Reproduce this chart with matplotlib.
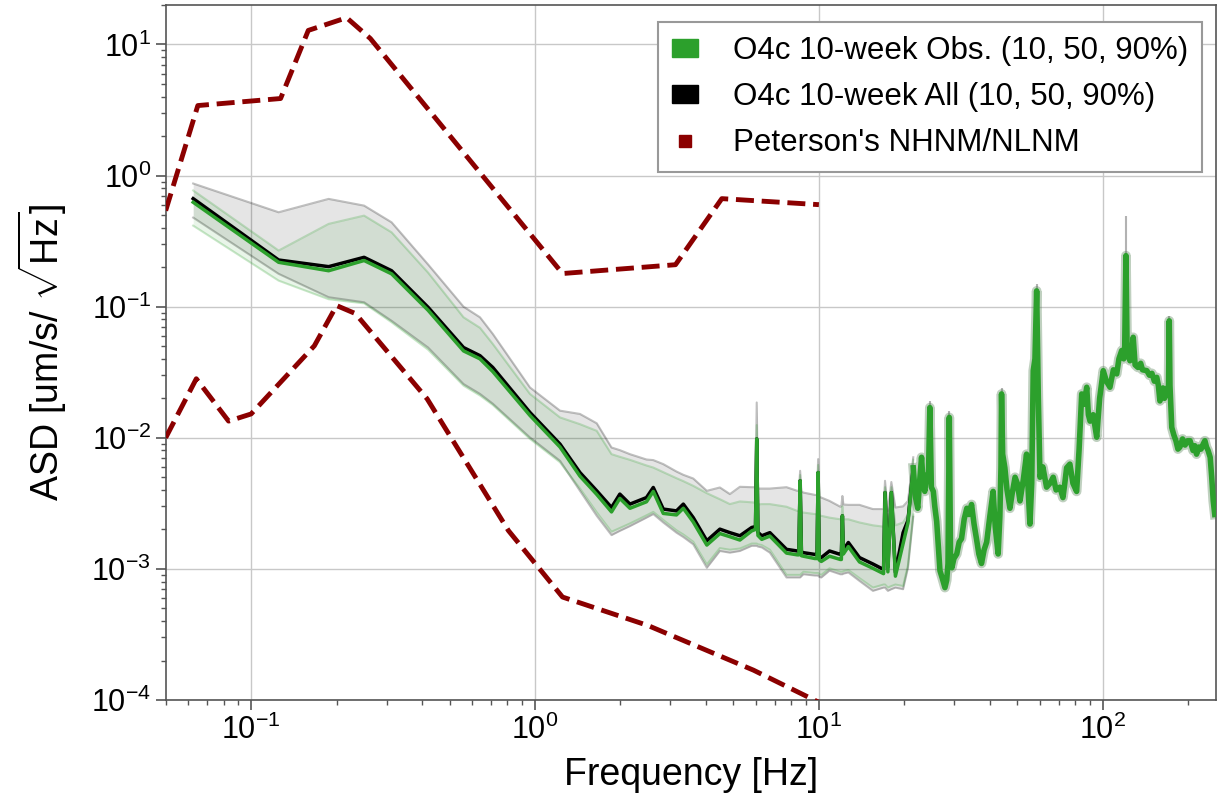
import numpy as np
import matplotlib
matplotlib.use('Agg')
import matplotlib.pyplot as plt
from matplotlib.patches import Patch
from matplotlib.lines import Line2D

plt.rcParams['font.family'] = ['Liberation Sans', 'DejaVu Sans']
plt.rcParams['mathtext.fontset'] = 'custom'
plt.rcParams['mathtext.rm'] = 'Liberation Sans'
plt.rcParams['mathtext.it'] = 'Liberation Sans:italic'
plt.rcParams['mathtext.bf'] = 'Liberation Sans:bold'

# --- percentile data, 0.06 - 21 Hz (10/50/90 %) ---
freq_lo = [0.0625, 0.125, 0.1875, 0.25, 0.3125, 0.42, 0.56, 0.64, 0.71, 0.96,
           1.225, 1.44, 1.65, 1.86, 1.99, 2.16, 2.47, 2.61, 2.83, 3.15,
           3.33, 3.61, 4.03, 4.48, 4.86, 5.27, 5.80, 5.98, 6.04, 6.10,
           6.29, 6.72, 7.69, 8.39, 8.50, 8.59, 8.68, 8.82, 9.68, 9.85,
           9.94, 10.03, 10.2, 10.9, 11.9, 12.0, 12.1, 12.2, 12.7, 13.9,
           15.5, 16.9, 17.1, 17.5, 18.0, 18.6, 19.8, 20.6, 21.5]

all_med = [0.667, 0.227, 0.202, 0.238, 0.188, 0.099, 0.0488, 0.0423, 0.0344, 0.0156,
           0.00895, 0.00543, 0.00394, 0.00294, 0.00372, 0.00312, 0.0035, 0.00418, 0.00286, 0.00277,
           0.00312, 0.00246, 0.00164, 0.00201, 0.00189, 0.00179, 0.00207, 0.0021, 0.0098, 0.0019,
           0.00179, 0.00189, 0.00141, 0.00137, 0.00137, 0.0047, 0.00135, 0.00133, 0.00129, 0.00128,
           0.00543, 0.00125, 0.00122, 0.00137, 0.00129, 0.00129, 0.00254, 0.0014, 0.00159, 0.00122,
           0.00109, 0.00099, 0.00382, 0.00103, 0.00382, 0.00094, 0.00189, 0.00235, 0.00593]

all_p90 = [0.87, 0.525, 0.664, 0.59, 0.44, 0.21, 0.10, 0.083, 0.062, 0.0242,
           0.0161, 0.0152, 0.0129, 0.00843, 0.00805, 0.0075, 0.00683, 0.00676, 0.0063, 0.00553,
           0.00522, 0.00489, 0.00394, 0.00418, 0.00372, 0.00423, 0.0042, 0.0042, 0.0186, 0.0041,
           0.0041, 0.0041, 0.0042, 0.00394, 0.00394, 0.0056, 0.0039, 0.00382, 0.00367, 0.00365,
           0.00688, 0.00355, 0.0035, 0.0033, 0.00298, 0.0030, 0.0036, 0.0031, 0.00308, 0.00308,
           0.00286, 0.00286, 0.0047, 0.00277, 0.0046, 0.00294, 0.0030, 0.0033, 0.0071]

all_p10 = [0.478, 0.178, 0.118, 0.108, 0.078, 0.0488, 0.0257, 0.0216, 0.0182, 0.01005,
           0.00667, 0.00394, 0.00254, 0.00181, 0.00195, 0.00212, 0.00246, 0.00262, 0.00226, 0.00189,
           0.00175, 0.00154, 0.00102, 0.00137, 0.00133, 0.00137, 0.0015, 0.0015, 0.0015, 0.00148,
           0.00146, 0.00133, 0.00086, 0.00086, 0.00086, 0.00086, 0.00088, 0.00091, 0.00089, 0.00089,
           0.00089, 0.00087, 0.00086, 0.00097, 0.00091, 0.00091, 0.00091, 0.00092, 0.00094, 0.00081,
           0.00068, 0.00072, 0.00072, 0.00068, 0.0007, 0.00072, 0.0007, 0.00102, 0.0025]

obs_med = [0.626, 0.218, 0.188, 0.225, 0.178, 0.094, 0.046, 0.040, 0.032, 0.0148,
           0.0085, 0.0051, 0.0037, 0.00272, 0.00345, 0.0029, 0.00325, 0.0039, 0.00265, 0.00258,
           0.0029, 0.00228, 0.00152, 0.00186, 0.00176, 0.00166, 0.00195, 0.0020, 0.0098, 0.0018,
           0.00168, 0.00178, 0.00132, 0.00128, 0.00128, 0.0047, 0.00126, 0.00125, 0.0012, 0.0012,
           0.00543, 0.00117, 0.00114, 0.00125, 0.00118, 0.00118, 0.00254, 0.0013, 0.00148, 0.00113,
           0.00101, 0.00092, 0.00382, 0.00095, 0.00382, 0.00088, 0.00156, 0.00225, 0.00593]

obs_p90 = [0.77, 0.268, 0.428, 0.495, 0.369, 0.182, 0.083, 0.069, 0.052, 0.0216,
           0.0143, 0.0127, 0.0113, 0.0075, 0.00716, 0.00679, 0.00615, 0.00593, 0.00547, 0.00492,
           0.00467, 0.0043, 0.00378, 0.0034, 0.00312, 0.00327, 0.00322, 0.0032, 0.0125, 0.0031,
           0.00312, 0.00312, 0.00298, 0.00277, 0.00275, 0.0052, 0.0027, 0.00269, 0.00262, 0.0026,
           0.0062, 0.00256, 0.00254, 0.00246, 0.00239, 0.00239, 0.0030, 0.00239, 0.00239, 0.00226,
           0.00215, 0.0021, 0.0042, 0.0021, 0.0042, 0.00215, 0.00226, 0.0026, 0.0068]

obs_p10 = [0.415, 0.158, 0.114, 0.106, 0.076, 0.047, 0.025, 0.021, 0.0178, 0.0098,
           0.0065, 0.0041, 0.0027, 0.00192, 0.00205, 0.00222, 0.00256, 0.00272, 0.00236, 0.00197,
           0.00183, 0.00161, 0.00108, 0.00144, 0.0014, 0.00143, 0.00156, 0.00156, 0.00156, 0.00154,
           0.00152, 0.0014, 0.0009, 0.0009, 0.0009, 0.0009, 0.00092, 0.00095, 0.00093, 0.00093,
           0.00093, 0.00091, 0.0009, 0.00101, 0.00095, 0.00095, 0.00095, 0.00096, 0.00098, 0.00085,
           0.00072, 0.00076, 0.00076, 0.00072, 0.00074, 0.00076, 0.00074, 0.00107, 0.0026]

# --- median above 21 Hz (both selections nearly identical) ---
freq_hf = [21.5, 21.9, 22.3, 22.7, 23.0, 23.3, 23.6, 24.0, 24.3, 24.6,
           24.9, 25.3, 25.6, 26.0, 26.3, 26.7, 27.2, 27.8, 28.2, 28.5,
           28.8, 29.1, 29.4, 29.9, 30.6, 31.2, 31.8, 32.5, 33.2, 33.8,
           34.5, 35.2, 35.9, 36.6, 37.4, 38.2, 39.0, 40.0, 41.1, 41.8,
           42.8, 43.4, 43.8, 44.0, 44.4, 45.2, 46.0, 47.1, 48.0, 49.1,
           50.0, 51.1, 52.5, 53.9, 54.6, 55.4, 56.2, 56.9, 57.7, 58.5,
           59.3, 60.1, 61.5, 63.4, 65.2, 66.9, 68.5, 70.6, 72.4, 73.5,
           74.6, 76.6, 78.5, 80.9, 82.5, 84.3, 86.0, 87.8, 89.0, 90.2,
           92.5, 95.2, 97.5, 100.4, 103, 106, 109, 112, 114, 116.6,
           118.5, 119.5, 120.7, 121.8, 123, 124.7, 126.5, 128, 130, 133,
           136, 138, 143, 146, 149, 152, 155, 157, 159, 161,
           163, 165, 168, 170.5, 171.5, 172.5, 175, 178, 181, 184,
           187, 191, 195, 199, 203, 208, 211, 214, 218, 222,
           226, 229, 232, 235, 239, 242, 245, 248]
med_hf = [0.0059, 0.0035, 0.0029, 0.0050, 0.0071, 0.0045, 0.0039, 0.0052, 0.0048, 0.0170,
          0.0042, 0.0039, 0.0030, 0.0023, 0.0016, 0.00097, 0.00085, 0.00072, 0.00082, 0.0011,
          0.0143, 0.0012, 0.00102, 0.0012, 0.0013, 0.0016, 0.0017, 0.0024, 0.0029, 0.0026,
          0.0031, 0.0022, 0.0017, 0.0013, 0.0011, 0.0014, 0.0016, 0.0025, 0.0039, 0.0021,
          0.0013, 0.0025, 0.0060, 0.0216, 0.0075, 0.0059, 0.0040, 0.0029, 0.0038, 0.0050,
          0.0045, 0.0033, 0.0048, 0.0075, 0.0040, 0.0022, 0.0045, 0.0325, 0.040, 0.132,
          0.020, 0.0050, 0.0060, 0.0042, 0.0045, 0.0050, 0.0040, 0.0042, 0.0035, 0.0045,
          0.0059, 0.0063, 0.0045, 0.0039, 0.0080, 0.0216, 0.018, 0.0243, 0.015, 0.0134,
          0.015, 0.0101, 0.020, 0.0325, 0.027, 0.0243, 0.033, 0.0307, 0.040, 0.0463,
          0.040, 0.050, 0.245, 0.050, 0.042, 0.0387, 0.045, 0.0584, 0.036, 0.0344,
          0.037, 0.033, 0.0325, 0.030, 0.031, 0.027, 0.0289, 0.025, 0.0191, 0.021,
          0.024, 0.020, 0.0228, 0.025, 0.078, 0.025, 0.0120, 0.0105, 0.0095, 0.0082,
          0.0085, 0.0098, 0.0088, 0.0095, 0.0095, 0.0080, 0.0087, 0.0075, 0.0085, 0.0082,
          0.0090, 0.0095, 0.0085, 0.0080, 0.0071, 0.0050, 0.0033, 0.0026]

# thin 90 % tops of the strongest lines
peak_freq = [24.6, 28.8, 44.0, 58.5, 120.7, 171.5]
peak_med = [0.0170, 0.0143, 0.0216, 0.132, 0.245, 0.078]
peak_p90 = [0.019, 0.016, 0.024, 0.15, 0.49, 0.085]

# --- Peterson noise models ---
nhnm_freq = [0.05, 0.0649, 0.127, 0.159, 0.217, 0.263, 1.25, 3.125, 4.55, 10.0]
nhnm_asd = [0.54, 3.42, 3.87, 12.8, 16.0, 11.1, 0.179, 0.209, 0.667, 0.60]
nlnm_freq = [0.05, 0.0641, 0.0833, 0.1, 0.167, 0.2, 0.233, 0.417, 0.806, 1.25, 2.5, 5.88, 10.0]
nlnm_asd = [0.01, 0.0282, 0.0134, 0.0152, 0.0503, 0.102, 0.0886, 0.0198, 0.00196, 6.1e-4,
            3.7e-4, 1.69e-4, 9.6e-5]

green = '#2ca02c'
dred = '#8b0000'

fig = plt.figure(figsize=(12.29, 8.06), dpi=100)
ax = fig.add_axes([0.1348, 0.1315, 0.8544, 0.8623])

# All (gray band + black median)
ax.fill_between(freq_lo, all_p10, all_p90, color='black', alpha=0.1, lw=0, zorder=2)
ax.plot(freq_lo, all_p90, color='black', alpha=0.25, lw=1.5, zorder=2)
ax.plot(freq_lo, all_p10, color='black', alpha=0.25, lw=1.5, zorder=2)
ax.plot(freq_lo, all_med, color='black', lw=2.5, zorder=3)

# Obs (green band + green median)
ax.fill_between(freq_lo, obs_p10, obs_p90, color=green, alpha=0.1, lw=0, zorder=2)
ax.plot(freq_lo, obs_p90, color=green, alpha=0.25, lw=1.5, zorder=2)
ax.plot(freq_lo, obs_p10, color=green, alpha=0.25, lw=1.5, zorder=2)
ax.vlines(peak_freq, peak_med, peak_p90, color='gray', alpha=0.6, lw=1.5, zorder=3)
ax.plot(freq_lo, obs_med, color=green, lw=2.5, zorder=4)
ax.plot(freq_hf, med_hf, color='#4a7a4a', lw=7, alpha=0.35, zorder=3)
ax.plot(freq_hf, med_hf, color=green, lw=4, zorder=4)

# Peterson models
ax.plot(nhnm_freq, nhnm_asd, color=dred, ls='--', lw=3.5, zorder=5)
ax.plot(nlnm_freq, nlnm_asd, color=dred, ls='--', lw=3.5, zorder=5)

ax.set_xscale('log')
ax.set_yscale('log')
ax.set_xlim(0.05, 250)
ax.set_ylim(1e-4, 20)
ax.grid(True, which='major', color='#c8c8c8', lw=1, zorder=0)
ax.set_axisbelow(True)

for sp in ax.spines.values():
    sp.set_color('#555555')
    sp.set_linewidth(1.2)
ax.tick_params(which='major', labelsize=22, length=7, width=1.2, color='#555555')
ax.tick_params(which='minor', length=3.5, width=1, color='#555555')

ax.set_xlabel('Frequency [Hz]', fontsize=27, labelpad=8)
ax.set_ylabel(r'ASD [um/s/ $\sqrt{\mathrm{Hz}}$]', fontsize=27, labelpad=16,
              family=['Liberation Sans Narrow', 'Liberation Sans'])

handles = [Patch(color=green), Patch(color='black'),
           Line2D([], [], marker='s', ls='none', color=dred, markersize=9)]
labels = ['O4c 10-week Obs. (10, 50, 90%)', 'O4c 10-week All (10, 50, 90%)',
          "Peterson's NHNM/NLNM"]
leg = ax.legend(handles, labels, loc='upper right', bbox_to_anchor=(0.987, 0.975),
                borderaxespad=0, fontsize=22.5, handlelength=0.85, handleheight=0.5,
                handletextpad=1.1, borderpad=0.45, labelspacing=0.5, fancybox=False,
                framealpha=1, edgecolor='#999999')
leg.get_frame().set_linewidth(1.5)
leg.set_zorder(10)

fig.savefig('out.png', dpi=100)
